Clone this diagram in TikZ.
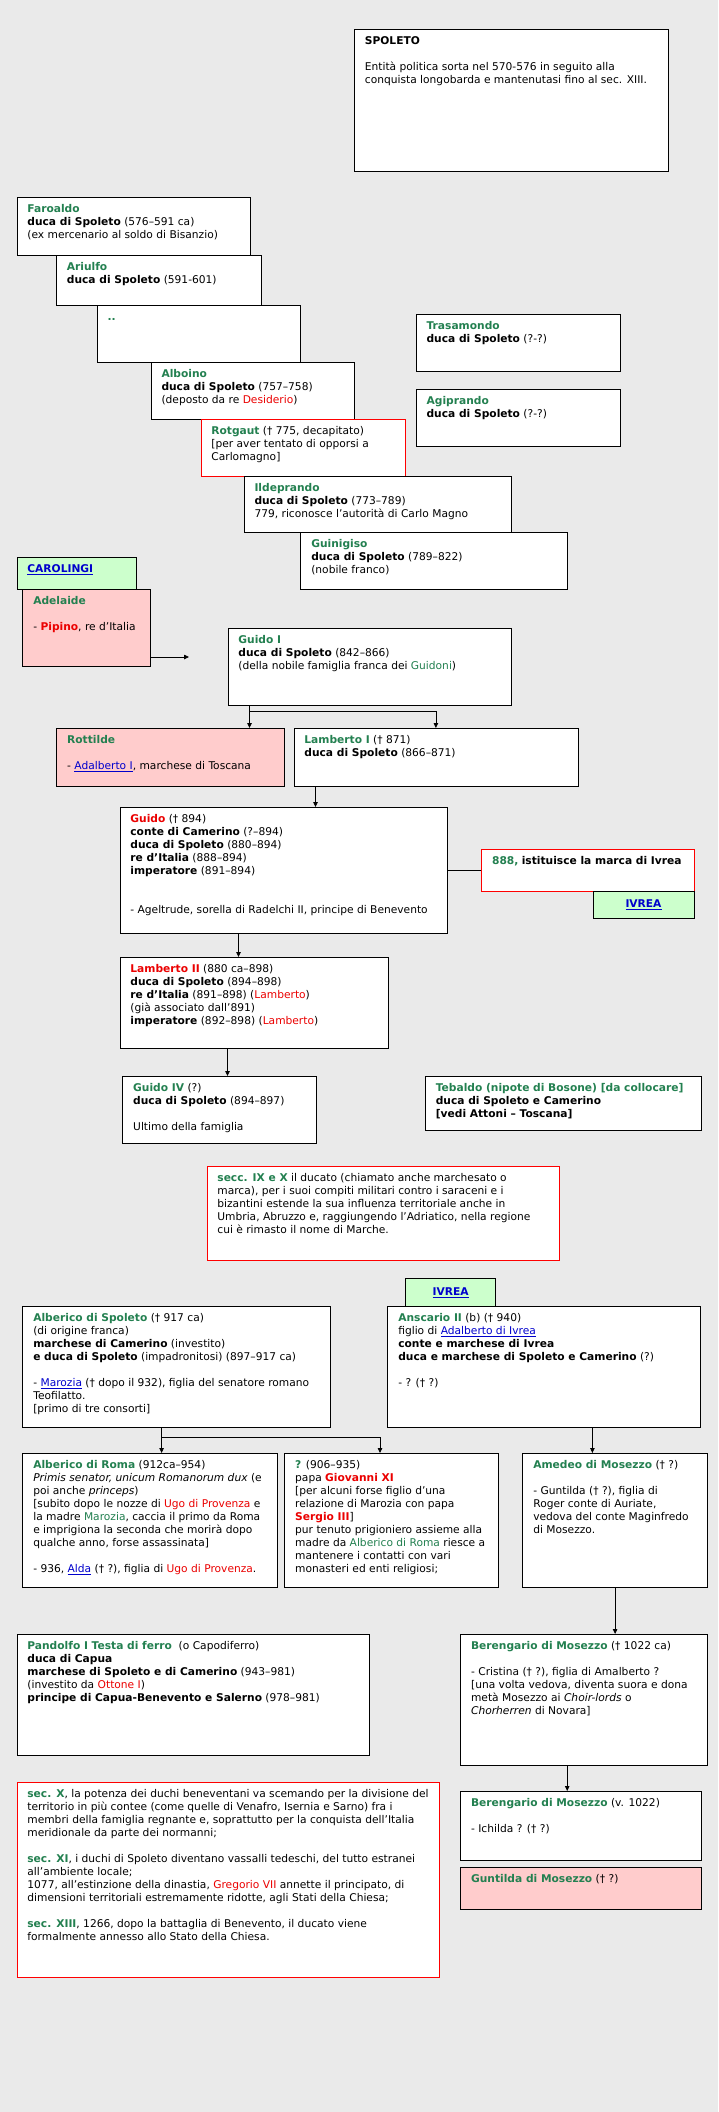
\documentclass[tikz,border=0pt]{standalone}
\usepackage{fontspec}
\setmainfont{DejaVu Sans}
\usepackage{tikz}
\usetikzlibrary{arrows.meta}

\definecolor{sfondo}{RGB}{234,234,234}
\definecolor{verdenome}{RGB}{35,128,80}
\definecolor{rossotesto}{RGB}{235,0,0}
\definecolor{blulink}{RGB}{0,0,204}
\definecolor{rosa}{RGB}{255,204,204}
\definecolor{verdechiaro}{RGB}{204,255,204}

\newcommand{\nome}[1]{\textcolor{verdenome}{\textbf{#1}}}
\newcommand{\verde}[1]{\textcolor{verdenome}{#1}}
\newcommand{\rosso}[1]{\textcolor{rossotesto}{#1}}
\newcommand{\collegamento}[1]{\textcolor{blulink}{\underline{#1}}}
\newcommand{\voce}[3]{\begin{minipage}[t][#2pt][t]{#1pt}\hspace*{10.5pt}\begin{tabular}[t]{@{}l@{}}\rule{0pt}{15pt}#3\end{tabular}\end{minipage}}

\tikzset{
  casella/.style={draw, fill=white, anchor=north west, inner sep=0pt, line width=0.8pt},
  avviso/.style={casella, draw=red},
  ramo/.style={casella, fill=rosa},
  dinastia/.style={casella, fill=verdechiaro},
  freccia/.style={-{Triangle[length=5pt,width=4.5pt]}, line width=0.8pt}
}

\begin{document}
\begin{tikzpicture}[x=1pt, y=-1pt, font=\fontsize{10.67pt}{13pt}\selectfont]
      \fill[sfondo] (0,0) rectangle (718,2112);

      \node (spoleto) [casella] at (354,29) {\voce{314}{142}{\textbf{SPOLETO}\\ \\ Entità politica sorta nel 570-576 in seguito alla\\ conquista longobarda e mantenutasi fino al sec. XIII.}};

      \node (faroaldo) [casella] at (16.5,197) {\voce{233}{58}{\nome{Faroaldo}\\ \textbf{duca di Spoleto} (576--591 ca)\\ (ex mercenario al soldo di Bisanzio)}};
      \node (ariulfo) [casella] at (56,255) {\voce{204.5}{50}{\nome{Ariulfo}\\ \textbf{duca di Spoleto} (591-601)}};
      \node (puntini) [casella] at (96.6,305) {\voce{203.8}{57}{\nome{..}}};
      \node (trasamondo) [casella] at (415.7,314) {\voce{204.7}{57}{\nome{Trasamondo}\\ \textbf{duca di Spoleto} (?-?)}};
      \node (alboino) [casella] at (150.6,362) {\voce{203.4}{57}{\nome{Alboino}\\ \textbf{duca di Spoleto} (757--758)\\ (deposto da re \rosso{Desiderio})}};
      \node (agiprando) [casella] at (415.7,389) {\voce{204.7}{57}{\nome{Agiprando}\\ \textbf{duca di Spoleto} (?-?)}};
      \node (rotgaut) [avviso] at (200.5,419) {\voce{204.5}{57}{\nome{Rotgaut} († 775, decapitato)\\ {[}per aver tentato di opporsi a\\ Carlomagno]}};
      \node (ildeprando) [casella] at (243.6,476) {\voce{267}{56}{\nome{Ildeprando}\\ \textbf{duca di Spoleto} (773--789)\\ 779, riconosce l'autorità di Carlo Magno}};
      \node (guinigiso) [casella] at (300.4,532) {\voce{267}{57}{\nome{Guinigiso}\\ \textbf{duca di Spoleto} (789--822)\\ (nobile franco)}};

      \node (carolingi) [dinastia] at (16.5,557) {\voce{119}{32}{\collegamento{\textbf{CAROLINGI}}}};
      \node (adelaide) [ramo] at (22.4,589) {\voce{127.3}{77}{\nome{Adelaide}\\ \\ - \rosso{\textbf{Pipino}}, re d'Italia}};
      \node (guidoI) [casella] at (227.5,628) {\voce{283}{77}{\nome{Guido I}\\ \textbf{duca di Spoleto} (842--866)\\ (della nobile famiglia franca dei \verde{Guidoni})}};
      \node (rottilde) [ramo] at (56.3,728) {\voce{228}{58}{\nome{Rottilde}\\ \\ - \collegamento{Adalberto I}, marchese di Toscana}};
      \node (lambertoI) [casella] at (293.5,728) {\voce{284}{58}{\nome{Lamberto I} († 871)\\ \textbf{duca di Spoleto} (866--871)}};
      \node (guido) [casella] at (119.5,807) {\voce{327}{126}{\rosso{\textbf{Guido}} († 894)\\ \textbf{conte di Camerino} (?--894)\\ \textbf{duca di Spoleto} (880--894)\\ \textbf{re d'Italia} (888--894)\\ \textbf{imperatore} (891--894)\\ \\ \\ - Ageltrude, sorella di Radelchi II, principe di Benevento}};
      \node (marca) [avviso] at (481.2,849) {\voce{212.5}{42}{\nome{888,} \textbf{istituisce la marca di Ivrea}}};
      \node (ivrea) [dinastia, minimum width=101.2pt, minimum height=27pt] at (592.5,891) {\collegamento{\textbf{IVREA}}};
      \node (lambertoII) [casella] at (119.5,957) {\voce{268}{91}{\rosso{\textbf{Lamberto II}} (880 ca--898)\\ \textbf{duca di Spoleto} (894--898)\\ \textbf{re d'Italia} (891--898) (\rosso{Lamberto})\\ (già associato dall'891)\\ \textbf{imperatore} (892--898) (\rosso{Lamberto})}};
      \node (guidoIV) [casella] at (122.3,1076) {\voce{193.2}{67}{\nome{Guido IV} (?)\\ \textbf{duca di Spoleto} (894--897)\\ \\ Ultimo della famiglia}};
      \node (tebaldo) [casella] at (424.9,1076) {\voce{275.6}{54}{\nome{Tebaldo (nipote di Bosone) [da collocare]}\\ \textbf{duca di Spoleto e Camerino}\\ \textbf{[vedi Attoni -- Toscana]}}};
      \node (secoli) [avviso] at (206.5,1166) {\voce{352}{94}{\nome{secc. IX e X} il ducato (chiamato anche marchesato o\\ marca), per i suoi compiti militari contro i saraceni e i\\ bizantini estende la sua influenza territoriale anche in\\ Umbria, Abruzzo e, raggiungendo l'Adriatico, nella regione\\ cui è rimasto il nome di Marche.}};

      \node (ivreaB) [dinastia, minimum width=90.2pt, minimum height=28pt] at (405.2,1278) {\collegamento{\textbf{IVREA}}};
      \node (albericoS) [casella] at (22.4,1306) {\voce{307.3}{121}{\nome{Alberico di Spoleto} († 917 ca)\\ (di origine franca)\\ \textbf{marchese di Camerino} (investito)\\ \textbf{e duca di Spoleto} (impadronitosi) (897--917 ca)\\ \\ - \collegamento{Marozia} († dopo il 932), figlia del senatore romano\\ Teofilatto.\\ {[}primo di tre consorti]}};
      \node (anscario) [casella] at (387.4,1306) {\voce{313}{121}{\nome{Anscario II} (b) († 940)\\ figlio di \collegamento{Adalberto di Ivrea}\\ \textbf{conte e marchese di Ivrea}\\ \textbf{duca e marchese di Spoleto e Camerino} (?)\\ \\ - ? († ?)}};
      \node (albericoR) [casella] at (22.4,1453) {\voce{255}{134}{\nome{Alberico di Roma} (912ca--954)\\ \textit{Primis senator, unicum Romanorum dux} (e\\ poi anche \textit{princeps})\\ {[}subito dopo le nozze di \rosso{Ugo di Provenza} e\\ la madre \verde{Marozia}, caccia il primo da Roma\\ e imprigiona la seconda che morirà dopo\\ qualche anno, forse assassinata]\\ \\ - 936, \collegamento{Alda} († ?), figlia di \rosso{Ugo di Provenza}.}};
      \node (ignoto) [casella] at (284.3,1453) {\voce{213.4}{134}{\nome{?} (906--935)\\ papa \rosso{\textbf{Giovanni XI}}\\ {[}per alcuni forse figlio d'una\\ relazione di Marozia con papa\\ \rosso{\textbf{Sergio III}}]\\ pur tenuto prigioniero assieme alla\\ madre da \verde{Alberico di Roma} riesce a\\ mantenere i contatti con vari\\ monasteri ed enti religiosi;}};
      \node (amedeo) [casella] at (522.4,1453) {\voce{184.6}{134}{\nome{Amedeo di Mosezzo} († ?)\\ \\ - Guntilda († ?), figlia di\\ Roger conte di Auriate,\\ vedova del conte Maginfredo\\ di Mosezzo.}};
      \node (pandolfo) [casella] at (16.5,1634) {\voce{352}{121}{\nome{Pandolfo I Testa di ferro}\ \ (o Capodiferro)\\ \textbf{duca di Capua}\\ \textbf{marchese di Spoleto e di Camerino} (943--981)\\ (investito da \rosso{Ottone I})\\ \textbf{principe di Capua-Benevento e Salerno} (978--981)}};
      \node (berengario) [casella] at (460.2,1634) {\voce{246.8}{131}{\nome{Berengario di Mosezzo} († 1022 ca)\\ \\ - Cristina († ?), figlia di Amalberto ?\\ {[}una volta vedova, diventa suora e dona\\ metà Mosezzo ai \textit{Choir-lords} o\\ \textit{Chorherren} di Novara]}};
      \node (berengarioII) [casella] at (460.2,1791) {\voce{240.3}{69}{\nome{Berengario di Mosezzo} (v. 1022)\\ \\ - Ichilda ? († ?)}};
      \node (guntilda) [ramo] at (460.2,1867) {\voce{240.3}{42}{\nome{Guntilda di Mosezzo} († ?)}};
      \node (note) [avviso] at (16.5,1782) {\voce{422}{195}{\nome{sec. X}, la potenza dei duchi beneventani va scemando per la divisione del\\ territorio in più contee (come quelle di Venafro, Isernia e Sarno) fra i\\ membri della famiglia regnante e, soprattutto per la conquista dell'Italia\\ meridionale da parte dei normanni;\\ \\ \nome{sec. XI}, i duchi di Spoleto diventano vassalli tedeschi, del tutto estranei\\ all'ambiente locale;\\ 1077, all'estinzione della dinastia, \rosso{Gregorio VII} annette il principato, di\\ dimensioni territoriali estremamente ridotte, agli Stati della Chiesa;\\ \\ \nome{sec. XIII}, 1266, dopo la battaglia di Benevento, il ducato viene\\ formalmente annesso allo Stato della Chiesa.}};

      \coordinate (punta) at (189,657);
      \draw [freccia] (punta -| adelaide.east) -- (punta);
      \coordinate (bivio1) at (249.5,711);
      \draw [line width=0.8pt] (bivio1 |- guidoI.south) -- (bivio1);
      \draw [freccia] (bivio1) -- (bivio1 |- rottilde.north);
      \draw [freccia] (bivio1) -| (lambertoI.north);
      \coordinate (c1) at ([xshift=22pt]lambertoI.south west);
      \draw [freccia] (c1) -- (c1 |- guido.north);
      \draw [line width=0.8pt] (guido.east) -- (marca.west);
      \coordinate (c2) at ([xshift=119pt]guido.south west);
      \draw [freccia] (c2) -- (c2 |- lambertoII.north);
      \coordinate (c3) at ([xshift=108pt]lambertoII.south west);
      \draw [freccia] (c3) -- (c3 |- guidoIV.north);
      \coordinate (bivio2) at (161.6,1437);
      \coordinate (bivio3) at (380,1437);
      \draw [line width=0.8pt] (bivio2 |- albericoS.south) -- (bivio2);
      \draw [freccia] (bivio2) -- (bivio2 |- albericoR.north);
      \draw [freccia] (bivio2) -- (bivio3) -- (bivio3 |- ignoto.north);
      \coordinate (c4) at ([xshift=205pt]anscario.south west);
      \draw [freccia] (c4) -- (c4 |- amedeo.north);
      \draw [freccia] (amedeo.south) -- (amedeo.south |- berengario.north);
      \coordinate (c5) at ([xshift=107pt]berengario.south west);
      \draw [freccia] (c5) -- (c5 |- berengarioII.north);
\end{tikzpicture}
\end{document}
